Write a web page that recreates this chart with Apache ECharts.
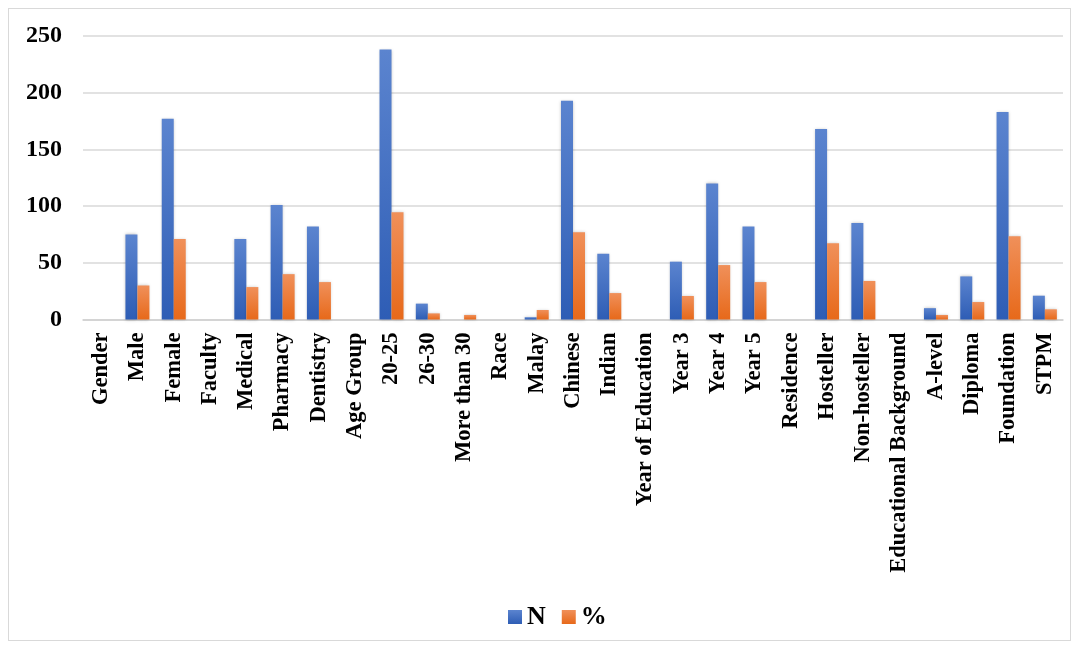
<!DOCTYPE html>
<html>
<head>
<meta charset="utf-8">
<script src="https://cdn.jsdelivr.net/npm/echarts@6/dist/echarts.min.js"></script>
<style>
  html, body { margin: 0; padding: 0; background: #fff; }
  #frame { position: absolute; left: 8px; top: 8px; width: 1061px; height: 631px; border: 1px solid #d9d9d9; }
  #chart { position: absolute; left: 0; top: 0; width: 1078px; height: 648px; }
</style>
</head>
<body>
<div id="frame"></div>
<div id="chart"></div>
<script>
// categories along the x axis
var categories = ['Gender', 'Male', 'Female', 'Faculty', 'Medical', 'Pharmacy', 'Dentistry',
  'Age Group', '20-25', '26-30', 'More than 30', 'Race', 'Malay', 'Chinese', 'Indian',
  'Year of Education', 'Year 3', 'Year 4', 'Year 5', 'Residence', 'Hosteller', 'Non-hosteller',
  'Educational Background', 'A-level', 'Diploma', 'Foundation', 'STPM'];

// N values (blank for group headings)
var nValues = [null, 75, 177, null, 71, 101, 82,
  null, 238, 14, 0, null, 2, 193, 58,
  null, 51, 120, 82, null, 168, 85,
  null, 10, 38, 183, 21];

// % values
var pctValues = [null, 30, 71, null, 28.6, 40, 33,
  null, 94.6, 5.4, 4, null, 8.4, 77, 23.3,
  null, 20.7, 48, 33, null, 67.3, 34,
  null, 4, 15.4, 73.5, 9];

var yTicks = { min: 0, max: 250, interval: 50 };

var serif = '"Liberation Serif", "Times New Roman", serif';

var blueFill = new echarts.graphic.LinearGradient(0, 0, 0, 1, [
  { offset: 0, color: '#5b84cf' },
  { offset: 1, color: '#2e5db5' }
]);
var orangeFill = new echarts.graphic.LinearGradient(0, 0, 0, 1, [
  { offset: 0, color: '#f0905a' },
  { offset: 1, color: '#e7691a' }
]);

var chart = echarts.init(document.getElementById('chart'));
chart.setOption({
  animation: false,
  grid: { left: 83, right: 15, top: 36, bottom: 328.5 },
  legend: {
    top: 599,
    left: 503,
    itemWidth: 14,
    itemHeight: 14,
    itemGap: 16,
    textStyle: { fontFamily: serif, fontWeight: 'bold', fontSize: 26, color: '#000' },
    data: [
      { name: 'N', icon: 'rect' },
      { name: '%', icon: 'rect' }
    ]
  },
  xAxis: {
    type: 'category',
    data: categories,
    axisTick: { show: false },
    axisLine: { lineStyle: { color: '#d0d0d0', width: 1.5 } },
    axisLabel: {
      rotate: 90,
      interval: 0,
      margin: 13,
      fontFamily: serif,
      fontWeight: 'bold',
      fontSize: 22.5,
      color: '#000'
    }
  },
  yAxis: {
    type: 'value',
    min: yTicks.min,
    max: yTicks.max,
    interval: yTicks.interval,
    axisLine: { show: false },
    axisTick: { show: false },
    splitLine: { lineStyle: { color: '#d9d9d9', width: 1.5 } },
    axisLabel: {
      margin: 21,
      fontFamily: serif,
      fontWeight: 'bold',
      fontSize: 24,
      color: '#000'
    }
  },
  series: [
    {
      name: 'N',
      type: 'bar',
      data: nValues,
      barWidth: 12,
      barGap: '0%',
      itemStyle: { color: blueFill, shadowColor: 'rgba(0,0,0,0.25)', shadowBlur: 3 }
    },
    {
      name: '%',
      type: 'bar',
      data: pctValues,
      barWidth: 12,
      barGap: '0%',
      itemStyle: { color: orangeFill, shadowColor: 'rgba(0,0,0,0.2)', shadowBlur: 3 }
    }
  ]
});
</script>
</body>
</html>
